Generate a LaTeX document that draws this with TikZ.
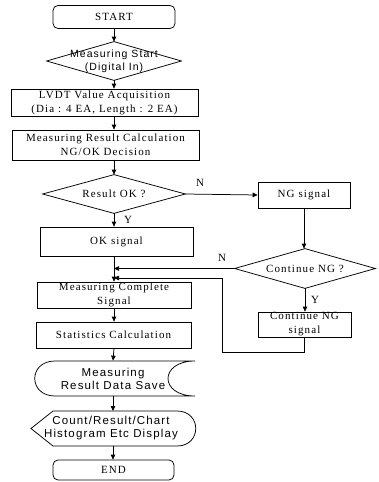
\documentclass[tikz,border=0pt]{standalone}
\usepackage{fontspec}
\setmainfont{Liberation Serif}
\newfontfamily\serifK[LetterSpace=10]{Liberation Serif}
\newfontfamily\sansK[LetterSpace=10]{Liberation Sans}
\usetikzlibrary{shapes.geometric,arrows.meta}
\begin{document}
\begin{tikzpicture}[x=1pt,y=-1pt, line width=0.75pt,
  box/.style={draw, rectangle, inner sep=0pt, align=center, font=\serifK\fontsize{11}{14}\selectfont},
  term/.style={box, rounded corners=5pt},
  diabox/.style={rectangle, inner sep=0pt, align=center, font=\serifK\fontsize{11}{14}\selectfont},
  sanstxt/.style={rectangle, inner sep=0pt, align=center, font=\sansK\fontsize{11.5}{13}\selectfont},
  arr/.style={-{Triangle[length=5pt,width=4.5pt]}},
  lab/.style={font=\serifK\fontsize{11}{12}\selectfont, inner sep=0pt}]
\useasboundingbox (0,0) rectangle (378,482);
\fill[white] (0,0) rectangle (378,482);

% nodes
\node[term, minimum width=122pt, minimum height=23pt] (start) at (114,17) {START};
\node[diabox, minimum width=134pt, minimum height=38pt, font=\sansK\fontsize{10.5}{13}\selectfont] (ms) at (114,61) {Measuring Start\\(Digital In)};
\draw (ms.north) -- (ms.east) -- (ms.south) -- (ms.west) -- cycle;
\node[box, minimum width=187pt, minimum height=27pt] (lvdt) at (104.5,102.5) {LVDT Value Acquisition\\(Dia : 4 EA, Length : 2 EA)};
\node[box, minimum width=187pt, minimum height=30pt] (mr) at (105.5,145) {Measuring Result Calculation\\NG/OK Decision};
\node[diabox, minimum width=142pt, minimum height=38pt] (rok) at (114,194) {Result OK ?};
\draw (rok.north) -- (rok.east) -- (rok.south) -- (rok.west) -- cycle;
\node[box, minimum width=153pt, minimum height=29pt] (ok) at (116.5,241.5) {OK signal};
\node[box, minimum width=92pt, minimum height=26pt] (ng) at (304,195) {NG signal};
\node[diabox, minimum width=140pt, minimum height=39pt] (cng) at (305,268.5) {Continue NG ?};
\draw (cng.north) -- (cng.east) -- (cng.south) -- (cng.west) -- cycle;
\node[box, minimum width=93pt, minimum height=25pt] (cngs) at (304.5,324.5) {Continue NG\\signal};
\node[box, minimum width=154pt, minimum height=26pt] (mc) at (114,295) {Measuring Complete\\Signal};
\node[box, minimum width=155pt, minimum height=26pt] (stat) at (113.5,335) {Statistics Calculation};
\node[sanstxt, minimum width=162pt, minimum height=35pt] (save) at (113,378.5) {Measuring\\Result Data Save};
\draw (55,361) .. controls (28,361) and (28,396) .. (55,396) -- (195,396)
      .. controls (159,396) and (159,361) .. (195,361) -- cycle;
\node[sanstxt, minimum width=166pt, minimum height=35pt] (disp) at (111,428.5) {Count/Result/Chart\\Histogram Etc Display};
\draw (31,428.5) -- (53,411) -- (177,411) .. controls (202,411) and (202,446) .. (177,446)
      -- (53,446) -- cycle;
\node[term, minimum width=121pt, minimum height=20pt] (end) at (113.5,470) {END};

% labels
\node[lab] (ln1) at (200,183) {N};
\node[lab] (ly1) at (128,220) {Y};
\node[lab] (ln2) at (222,258) {N};
\node[lab] (ly2) at (315,300) {Y};

% connectors
\draw[arr] (start.south -| ms.north) -- (ms.north);
\draw[arr] (ms.south) -- (ms.south |- lvdt.north);
\draw[arr] (ms.south |- lvdt.south) -- (ms.south |- mr.north);
\draw[arr] (rok.north |- mr.south) -- (rok.north);
\draw[arr] (rok.south) -- (rok.south |- ok.north);
\draw[arr] (rok.east) -- (ng.west);
\draw[arr] (ng.south) -- (ng.south |- cng.north);
\draw[arr] (cng.south) -- (cng.south |- cngs.north);
\draw[arr] (cng.west) -- (cng.west -| mc.north);
\coordinate (c1) at (222,352);
\coordinate (c2) at (222,278);
\draw[arr] (cngs.south) |- (c1) -- (c2) -- (c2 -| mc.north);
\draw[arr] (mc.north |- ok.south) -- (mc.north);
\draw[arr] (mc.south) -- (mc.south |- stat.north);
\draw[arr] (mc.south |- stat.south) -- (save.north);
\draw[arr] (save.south) -- (save.south |- 0,411);
\draw[arr] (save.south |- 0,446) -- (save.south |- end.north);
\end{tikzpicture}
\end{document}
